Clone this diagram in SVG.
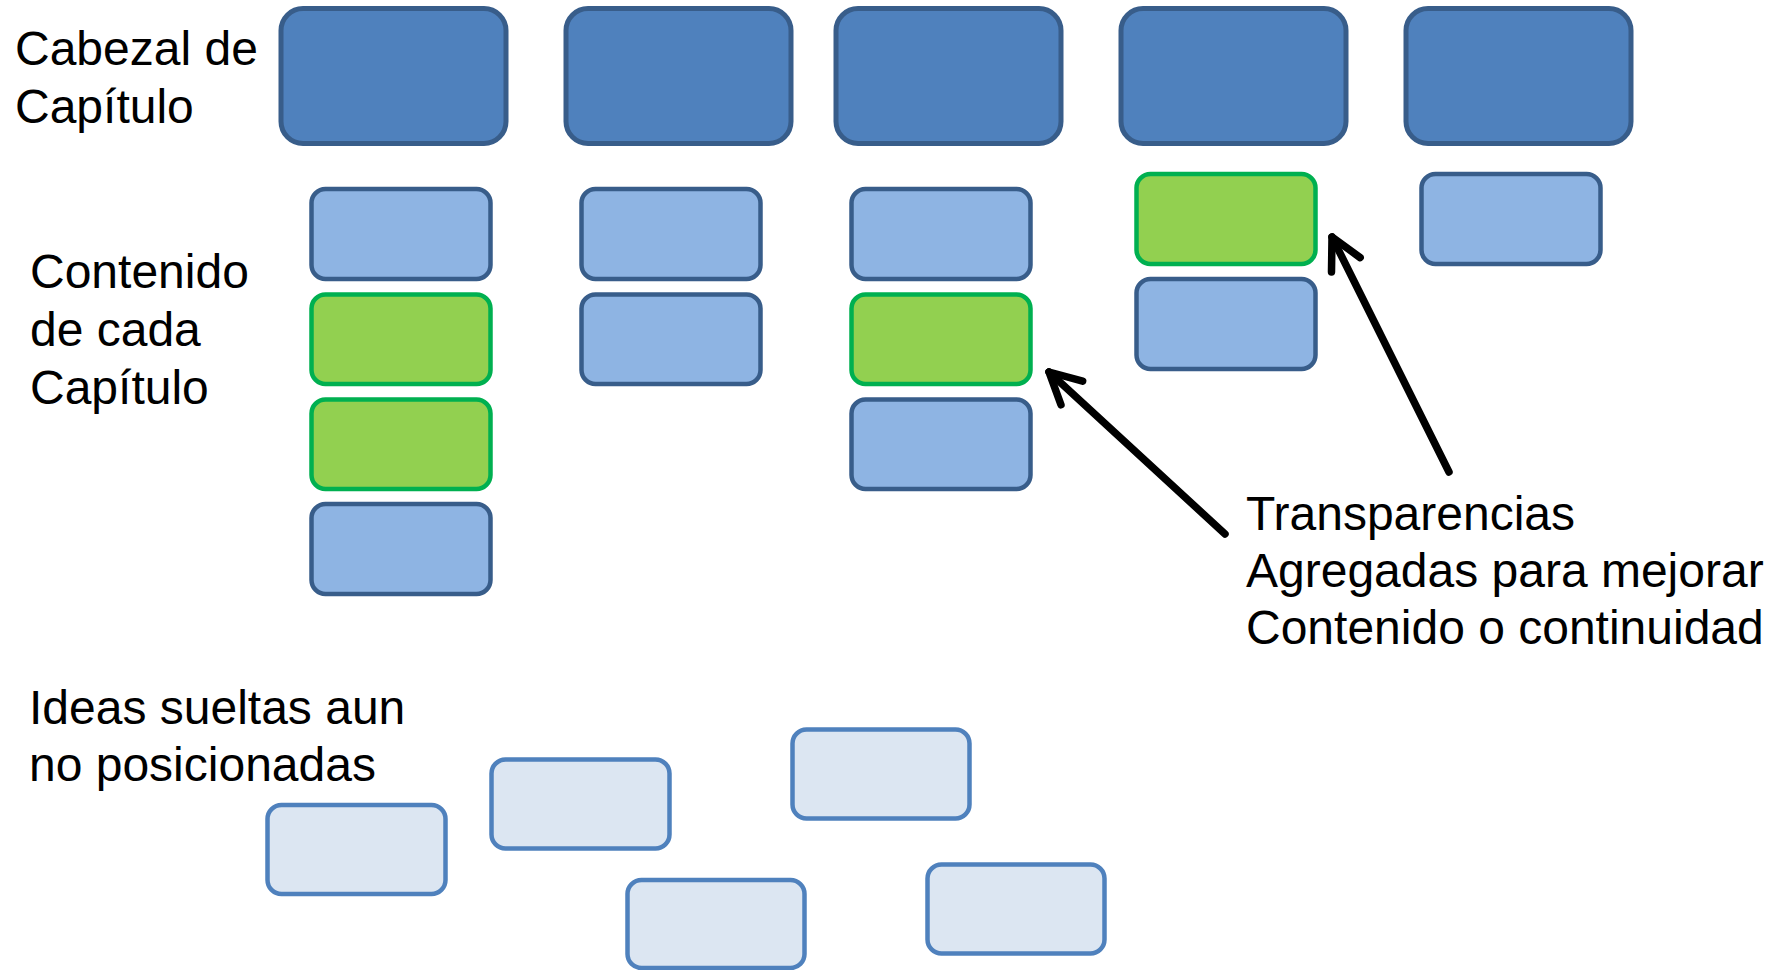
<svg xmlns="http://www.w3.org/2000/svg" width="1777" height="970" viewBox="0 0 1777 970">
<style>
.lbl{font-family:"Liberation Sans",Arial,sans-serif;font-size:48px;fill:#000}
.head{fill:#4F81BD;stroke:#385D8A;stroke-width:5}
.blue{fill:#8EB4E3;stroke:#385D8A;stroke-width:4.5}
.green{fill:#92D050;stroke:#00B050;stroke-width:4.5}
.loose{fill:#DCE6F2;stroke:#4F81BD;stroke-width:4.5}
.conn{fill:none;stroke:#000;stroke-width:7.5;stroke-linecap:round}
</style>
<defs>
<marker id="open" markerUnits="userSpaceOnUse" orient="auto" refX="0" refY="0" markerWidth="60" markerHeight="60" viewBox="-40 -30 60 60" overflow="visible">
<path d="M -31 -16 L 0 0 L -31 16" fill="none" stroke="#000" stroke-width="7.5" stroke-linecap="round" stroke-linejoin="round"/>
</marker>
</defs>
<rect width="1777" height="970" fill="#fff"/>
<g id="labels">
<text class="lbl" x="15" y="65">Cabezal de</text>
<text class="lbl" x="15" y="123">Capítulo</text>
<text class="lbl" x="30" y="288">Contenido</text>
<text class="lbl" x="30" y="346">de cada</text>
<text class="lbl" x="30" y="404">Capítulo</text>
<text class="lbl" x="29" y="724">Ideas sueltas aun</text>
<text class="lbl" x="29" y="781">no posicionadas</text>
<text class="lbl" x="1246" y="530">Transparencias</text>
<text class="lbl" x="1246" y="587">Agregadas para mejorar</text>
<text class="lbl" x="1246" y="644">Contenido o continuidad</text>
</g>
<g id="h1"><rect class="head" x="281" y="8.5" width="225" height="135" rx="22"/></g>
<g id="h2"><rect class="head" x="566" y="8.5" width="225" height="135" rx="22"/></g>
<g id="h3"><rect class="head" x="836" y="8.5" width="225" height="135" rx="22"/></g>
<g id="h4"><rect class="head" x="1121" y="8.5" width="225" height="135" rx="22"/></g>
<g id="h5"><rect class="head" x="1406" y="8.5" width="225" height="135" rx="22"/></g>
<g id="c1a"><rect class="blue" x="311.5" y="189" width="179" height="90" rx="14"/></g>
<g id="c1b"><rect class="green" x="311.5" y="294.5" width="179" height="89.5" rx="14"/></g>
<g id="c1c"><rect class="green" x="311.5" y="399.5" width="179" height="89.5" rx="14"/></g>
<g id="c1d"><rect class="blue" x="311.5" y="504" width="179" height="90" rx="14"/></g>
<g id="c2a"><rect class="blue" x="581.5" y="189" width="179" height="90" rx="14"/></g>
<g id="c2b"><rect class="blue" x="581.5" y="294.5" width="179" height="89.5" rx="14"/></g>
<g id="c3a"><rect class="blue" x="851.5" y="189" width="179" height="90" rx="14"/></g>
<g id="c3b"><rect class="green" x="851.5" y="294.5" width="179" height="89.5" rx="14"/></g>
<g id="c3c"><rect class="blue" x="851.5" y="399.5" width="179" height="89.5" rx="14"/></g>
<g id="c4a"><rect class="green" x="1136.5" y="174" width="179" height="90" rx="14"/></g>
<g id="c4b"><rect class="blue" x="1136.5" y="279" width="179" height="90" rx="14"/></g>
<g id="c5a"><rect class="blue" x="1421.5" y="174" width="179" height="90" rx="14"/></g>
<g id="i1"><rect class="loose" x="267.5" y="805" width="178" height="89" rx="14"/></g>
<g id="i2"><rect class="loose" x="491.5" y="759.5" width="178" height="89" rx="14"/></g>
<g id="i3"><rect class="loose" x="792.5" y="729.5" width="177" height="89" rx="14"/></g>
<g id="i4"><rect class="loose" x="627.5" y="880" width="177" height="88" rx="14"/></g>
<g id="i5"><rect class="loose" x="927.5" y="864.5" width="177" height="89" rx="14"/></g>
<g id="connectors">
<line class="conn" x1="1225" y1="534" x2="1049" y2="372" marker-end="url(#open)"/>
<line class="conn" x1="1449" y1="472" x2="1332" y2="237" marker-end="url(#open)"/>
</g>
</svg>
